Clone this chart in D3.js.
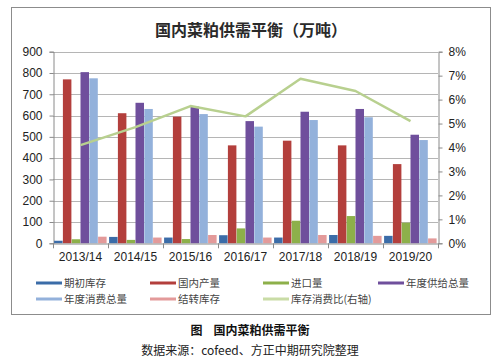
<!DOCTYPE html>
<html><head><meta charset="utf-8">
<script src="https://cdn.jsdelivr.net/npm/d3@7/dist/d3.min.js"></script>
<style>body{margin:0;background:#fff;}svg{display:block;font-family:"Liberation Sans","Noto Sans CJK SC",sans-serif;}</style>
</head><body><svg id="c" width="500" height="359"></svg>
<script>
const categories = ["2013/14","2014/15","2015/16","2016/17","2017/18","2018/19","2019/20"];
const seriesNames = ["期初库存","国内产量","进口量","年度供给总量","年度消费总量","结转库存"];
const beginStock = [12,30,27,38,27,39,35];
const production = [770,611,595,460,482,460,372];
const imports = [19,16,20,70,106,128,97];
const totalSupply = [804,660,642,574,618,631,510];
const consumption = [775,631,607,548,579,592,485];
const endStock = [31,27,39,27,39,35,23];
const ratioName = "库存消费比(右轴)";
const ratio = [4.1,4.85,5.73,5.3,6.87,6.36,5.1];
const leftTicks = [0,100,200,300,400,500,600,700,800,900];
const rightTicks = [0,1,2,3,4,5,6,7,8];
const colors = ["#3b6ca8","#b33f3c","#8db04a","#6f4f9c","#93b1db","#e39a9a"];
const lineColor = "#b8d08f";

const values = [beginStock,production,imports,totalSupply,consumption,endStock];
const svg = d3.select("#c");
const L=53,R=438,T=51.7,B=243.3;

svg.append("rect").attr("x",11.5).attr("y",7.5).attr("width",479).attr("height",307).attr("fill","#fff").attr("stroke","#8c8c8c");

svg.append("text").attr("x",251).attr("y",36).attr("text-anchor","middle").attr("font-size",16).attr("font-weight","bold")
  .attr("font-family","'Noto Sans CJK SC'").attr("fill","#2a2a2a").text("国内菜粕供需平衡（万吨）");

const x = d3.scaleBand().domain(categories).range([L,R]).paddingInner(0).paddingOuter(0);
const xi = d3.scaleBand().domain(d3.range(6)).range([0,x.bandwidth()]).paddingOuter(0.125).paddingInner(0);
const y = d3.scaleLinear().domain([0,900]).range([B,T]);
const y2 = d3.scaleLinear().domain([0,8]).range([B,T]);

svg.append("g").selectAll("line").data(leftTicks.slice(1)).join("line")
  .attr("x1",L).attr("x2",R).attr("y1",d=>Math.round(y(d))+0.5).attr("y2",d=>Math.round(y(d))+0.5)
  .attr("stroke","#b5b5b5").attr("stroke-width",1);

const ya = svg.append("g").attr("transform",`translate(${L+0.5},0)`).call(d3.axisLeft(y).tickValues(leftTicks).tickSize(4).tickPadding(7));
ya.select(".domain").attr("stroke","#8a8a8a");
ya.selectAll(".tick line").attr("stroke","#8a8a8a");
ya.selectAll("text").attr("font-size",12).attr("fill","#222").attr("font-family","Liberation Sans, Arial");

const yb = svg.append("g").attr("transform",`translate(${R+0.5},0)`).call(d3.axisRight(y2).tickValues(rightTicks).tickFormat(d=>d+"%").tickSize(4).tickPadding(6));
yb.select(".domain").attr("stroke","#8a8a8a");
yb.selectAll(".tick line").attr("stroke","#8a8a8a");
yb.selectAll("text").attr("font-size",12).attr("fill","#222").attr("font-family","Liberation Sans, Arial");

const g = svg.append("g");
categories.forEach((c,i)=>{
  values.forEach((arr,s)=>{
    g.append("rect").attr("x",x(c)+xi(s)).attr("width",xi.bandwidth()-0.3)
      .attr("y",y(arr[i])).attr("height",B-y(arr[i])).attr("fill",colors[s]);
  });
});

const xa = svg.append("g").attr("transform",`translate(0,${Math.round(B)+0.5})`).call(d3.axisBottom(x).tickSize(0).tickPadding(9));
xa.select(".domain").attr("stroke","#8a8a8a");
xa.selectAll("text").attr("font-size",12).attr("fill","#222").attr("font-family","Liberation Sans, Arial");
svg.append("g").selectAll("line").data(d3.range(categories.length+1)).join("line")
  .attr("x1",d=>Math.round(L+d*x.step())+0.5).attr("x2",d=>Math.round(L+d*x.step())+0.5)
  .attr("y1",B).attr("y2",B+5).attr("stroke","#8a8a8a");

const line = d3.line().x((d,i)=>x(categories[i])+x.bandwidth()/2).y(d=>y2(d));
svg.append("path").datum(ratio).attr("d",line).attr("fill","none").attr("stroke",lineColor).attr("stroke-width",2.5).attr("stroke-linejoin","round");

const legendItems = seriesNames.map((n,i)=>({name:n,color:colors[i]})).concat([{name:ratioName,color:"#c9dca6"}]);
const colX=[36,150,263,378];
const lg = svg.append("g");
legendItems.forEach((d,i)=>{
  const cx = colX[i%4], cy = i<4?283:299;
  lg.append("rect").attr("x",cx).attr("y",cy-1.5).attr("width",26).attr("height",3).attr("fill",d.color);
  lg.append("text").attr("x",cx+28).attr("y",cy+4).attr("font-size",10.5).attr("font-family","'Noto Sans CJK SC'").attr("fill","#444").text(d.name);
});

svg.append("text").attr("x",250).attr("y",335).attr("text-anchor","middle").attr("font-size",12).attr("font-weight","bold")
  .attr("font-family","'Noto Sans CJK SC'").attr("fill","#111").attr("xml:space","preserve").text("图    国内菜粕供需平衡");
svg.append("text").attr("x",250).attr("y",355).attr("text-anchor","middle").attr("font-size",12)
  .attr("font-family","'Noto Sans CJK SC'").attr("fill","#222").text("数据来源：cofeed、方正中期研究院整理");
</script></body></html>
